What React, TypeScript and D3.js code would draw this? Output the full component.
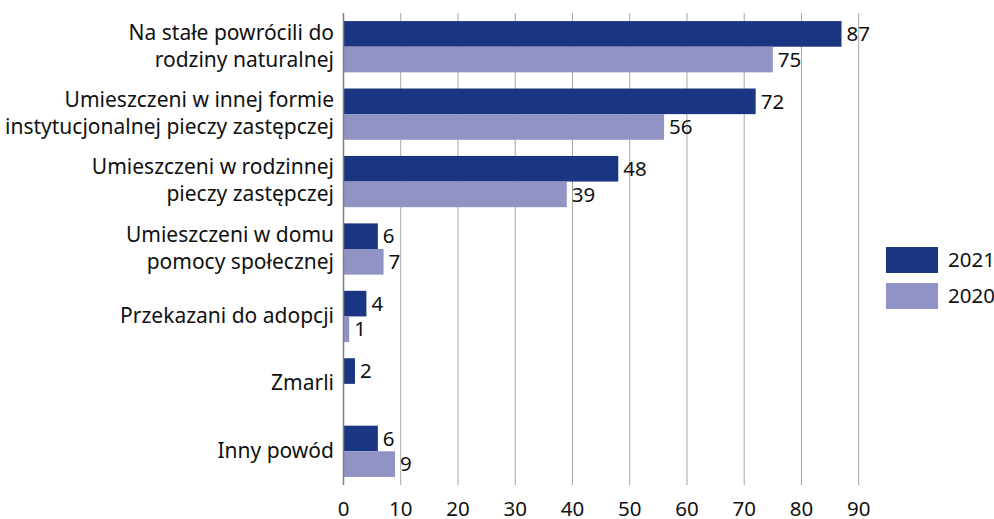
import { useMemo } from 'react';
import * as d3 from 'd3';

const WIDTH = 994;
const HEIGHT = 519;

const categories = [
  'Na stałe powrócili do|rodziny naturalnej',
  'Umieszczeni w innej formie|instytucjonalnej pieczy zastępczej',
  'Umieszczeni w rodzinnej|pieczy zastępczej',
  'Umieszczeni w domu|pomocy społecznej',
  'Przekazani do adopcji',
  'Zmarli',
  'Inny powód',
];
const values2021 = [87, 72, 48, 6, 4, 2, 6];
const values2020 = [75, 56, 39, 7, 1, null, 9];
const seriesNames = ['2021', '2020'];
const xTicks = [0, 10, 20, 30, 40, 50, 60, 70, 80, 90];

const COLORS = ['#1a3581', '#9093c3'];
const FONT = '"Noto Sans", "Open Sans", sans-serif';
const FS = 20.5;
const LABEL_FS = 21;

const BarChart = () => {
  const x = useMemo(() => d3.scaleLinear().domain([0, 90]).range([343.5, 858.7]), []);
  const y = useMemo(
    () => d3.scaleBand().domain(categories).range([13, 485]).paddingInner(0.24).paddingOuter(0.12),
    []
  );
  const sub = d3.scaleBand().domain(seriesNames).range([0, y.bandwidth()]);
  const series = [values2021, values2020];

  return (
    <svg width={WIDTH} height={HEIGHT} style={{ position: 'absolute', left: 0, top: 0 }} fontFamily={FONT}>
      {/* grid */}
      {xTicks.slice(1).map((t) => (
        <line key={t} x1={x(t)} x2={x(t)} y1={13} y2={485} stroke="#a6a6a6" strokeWidth={1} />
      ))}

      {/* bars */}
      {categories.map((c, i) => (
        <g key={c}>
          {series.map((vals, s) => {
            const v = vals[i];
            if (v === null) return null;
            const by = (y(c) ?? 0) + (sub(seriesNames[s]) ?? 0);
            return (
              <g key={s}>
                <rect x={x(0)} y={by} width={x(v) - x(0)} height={sub.bandwidth()} fill={COLORS[s]} />
                <text x={x(v) + 5} y={by + sub.bandwidth() / 2} dy="0.35em" fontSize={FS} fill="#111">
                  {v}
                </text>
              </g>
            );
          })}
        </g>
      ))}

      {/* axis line */}
      <line x1={x(0)} x2={x(0)} y1={13} y2={485} stroke="#7f7f7f" strokeWidth={1.5} />

      {/* category labels */}
      {categories.map((c) => {
        const lines = c.split('|');
        const cy = (y(c) ?? 0) + y.bandwidth() / 2;
        const lh = 27;
        return (
          <text key={c} x={334} textAnchor="end" fontSize={LABEL_FS} fill="#111">
            {lines.map((l, k) => (
              <tspan key={k} x={334} y={cy + (k - (lines.length - 1) / 2) * lh - 1} dy="0.35em">
                {l}
              </tspan>
            ))}
          </text>
        );
      })}

      {/* x tick labels */}
      {xTicks.map((t) => (
        <text key={t} x={x(t)} y={516} textAnchor="middle" fontSize={FS} fill="#111">
          {t}
        </text>
      ))}

      {/* legend */}
      {seriesNames.map((n, i) => (
        <g key={n} transform={`translate(886,${247 + i * 36})`}>
          <rect width={52} height={26} fill={COLORS[i]} />
          <text x={62} y={13} dy="0.35em" fontSize={FS} fill="#111">
            {n}
          </text>
        </g>
      ))}
    </svg>
  );
};

export default function App() {
  return <BarChart />;
}
